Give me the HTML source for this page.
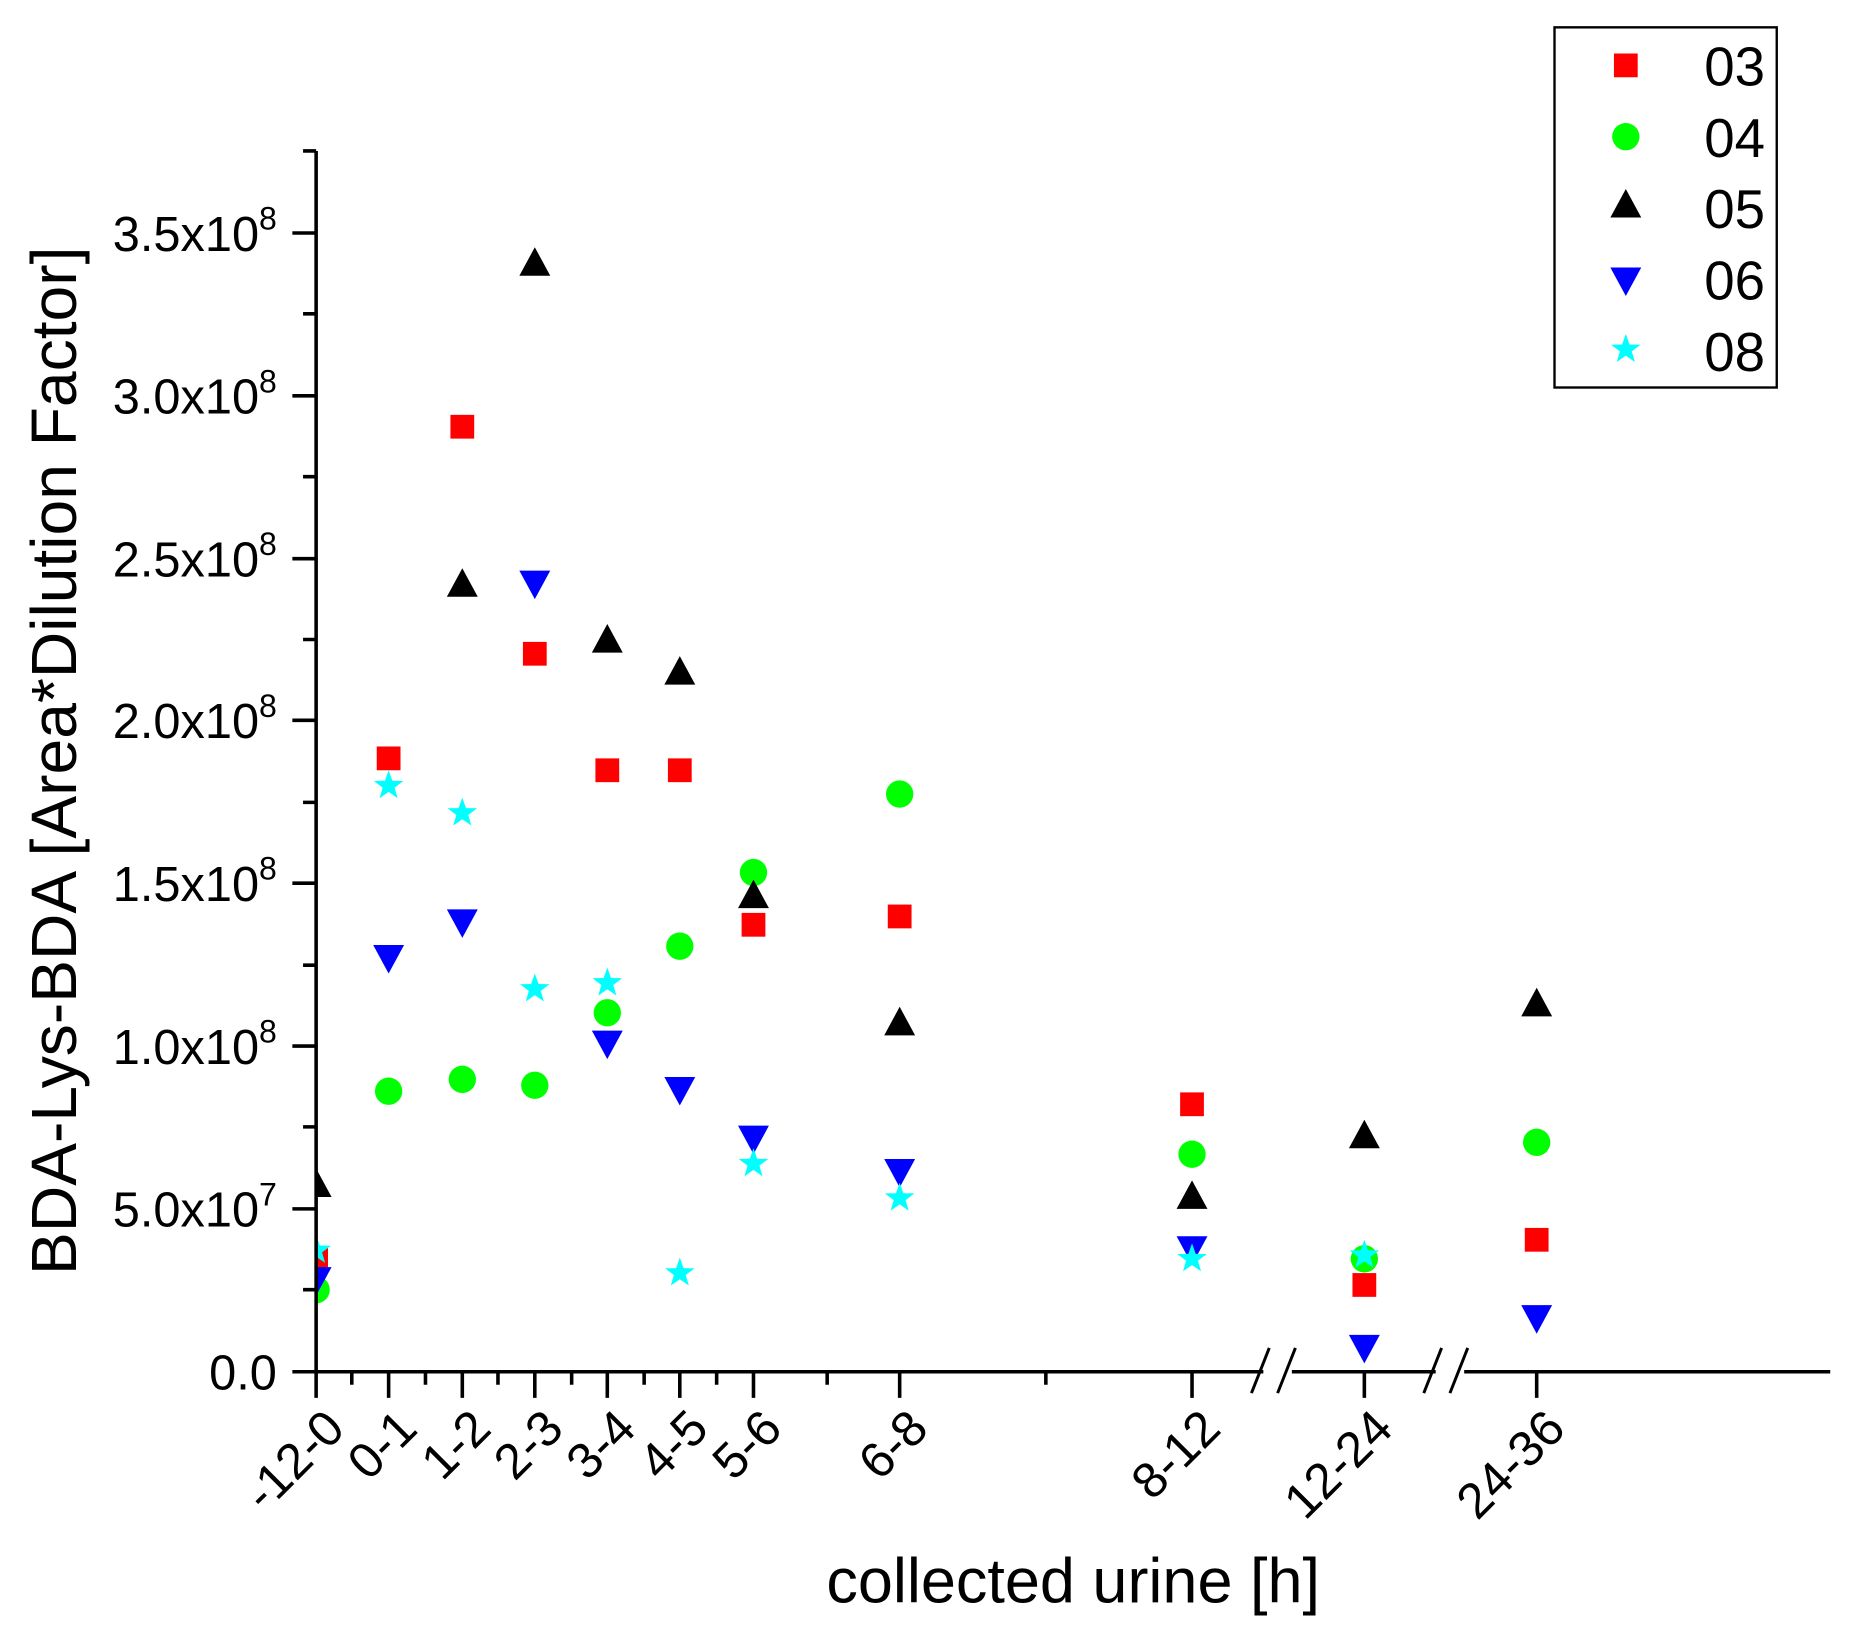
<!DOCTYPE html>
<html><head><meta charset="utf-8"><style>html,body{margin:0;padding:0;background:#fff}svg{display:block}</style></head>
<body>
<svg width="1854" height="1638" viewBox="0 0 1560 1378" preserveAspectRatio="none" xmlns="http://www.w3.org/2000/svg" xmlns:xlink="http://www.w3.org/1999/xlink" font-family="Liberation Sans, Arial, sans-serif">
<defs>
<rect id="sq" x="-10" y="-10" width="20" height="20" fill="#ff0000"/>
<circle id="ci" r="11.5" fill="#00ff00"/>
<polygon id="tu" points="0,-14 13,10 -13,10" fill="#000"/>
<polygon id="td" points="0,14 13,-10 -13,-10" fill="#0000ff"/>
<polygon id="st" points="0,-13 3.1,-4.2 12.4,-4 5,1.6 7.6,10.5 0,5.2 -7.6,10.5 -5,1.6 -12.4,-4 -3.1,-4.2" fill="#00ffff"/>
<clipPath id="cp"><rect x="266" y="0" width="1300" height="1154"/></clipPath>
</defs>
<rect width="1560" height="1378" fill="#fff"/>
<g clip-path="url(#cp)">
<use href="#sq" x="266" y="1060"/><use href="#sq" x="327" y="638"/><use href="#sq" x="389" y="359"/><use href="#sq" x="450" y="550"/><use href="#sq" x="511" y="648"/><use href="#sq" x="572" y="648"/><use href="#sq" x="634" y="778"/><use href="#sq" x="757" y="771"/><use href="#sq" x="1003" y="929"/><use href="#sq" x="1148" y="1081"/><use href="#sq" x="1293" y="1043"/>
<use href="#ci" x="266" y="1085"/><use href="#ci" x="327" y="918"/><use href="#ci" x="389" y="908"/><use href="#ci" x="450" y="913"/><use href="#ci" x="511" y="852"/><use href="#ci" x="572" y="796"/><use href="#ci" x="634" y="734"/><use href="#ci" x="757" y="668"/><use href="#ci" x="1003" y="971"/><use href="#ci" x="1148" y="1059"/><use href="#ci" x="1293" y="961"/>
<use href="#tu" x="266" y="997"/><use href="#tu" x="389" y="492"/><use href="#tu" x="450" y="222"/><use href="#tu" x="511" y="539"/><use href="#tu" x="572" y="566"/><use href="#tu" x="634" y="754"/><use href="#tu" x="757" y="861"/><use href="#tu" x="1003" y="1007"/><use href="#tu" x="1148" y="956"/><use href="#tu" x="1293" y="845"/>
<use href="#td" x="266" y="1076"/><use href="#td" x="327" y="805"/><use href="#td" x="389" y="775"/><use href="#td" x="450" y="490"/><use href="#td" x="511" y="877"/><use href="#td" x="572" y="916"/><use href="#td" x="634" y="957"/><use href="#td" x="757" y="985"/><use href="#td" x="1003" y="1050"/><use href="#td" x="1148" y="1133"/><use href="#td" x="1293" y="1108"/>
<use href="#st" x="266" y="1052"/><use href="#st" x="327" y="661"/><use href="#st" x="389" y="684"/><use href="#st" x="450" y="832"/><use href="#st" x="511" y="827"/><use href="#st" x="572" y="1071"/><use href="#st" x="634" y="979"/><use href="#st" x="757" y="1008"/><use href="#st" x="1003" y="1059"/><use href="#st" x="1148" y="1056"/>
</g>
<g stroke="#000" stroke-width="3" fill="none">
<line x1="266" y1="127" x2="266" y2="1155"/>
<line x1="250" y1="1154" x2="1540" y2="1154"/>
<path d="M246 196H266M246 333H266M246 470H266M246 606H266M246 743H266M246 880H266M246 1017H266M246 1154H266"/>
<path d="M255 127H266M255 264H266M255 401H266M255 538H266M255 675H266M255 812H266M255 948H266M255 1085H266"/>
<path d="M266 1154V1176M327 1154V1176M389 1154V1176M450 1154V1176M511 1154V1176M572 1154V1176M634 1154V1176M757 1154V1176M1003 1154V1176M1148 1154V1176M1293 1154V1176"/>
<path d="M296 1154V1165M358 1154V1165M419 1154V1165M481 1154V1165M542 1154V1165M603 1154V1165M696 1154V1165M880 1154V1165"/>
</g>
<rect x="1063" y="1148" width="24" height="12" fill="#fff"/>
<rect x="1208" y="1148" width="24" height="12" fill="#fff"/>
<g stroke="#000" stroke-width="2.5">
<line x1="1053" y1="1172" x2="1068" y2="1134"/><line x1="1075" y1="1172" x2="1090" y2="1134"/>
<line x1="1198" y1="1172" x2="1213" y2="1134"/><line x1="1220" y1="1172" x2="1235" y2="1134"/>
</g>
<g font-size="41" text-anchor="end" fill="#000">
<text x="233" y="211">3.5x10<tspan font-size="27" dy="-18">8</tspan></text>
<text x="233" y="348">3.0x10<tspan font-size="27" dy="-18">8</tspan></text>
<text x="233" y="485">2.5x10<tspan font-size="27" dy="-18">8</tspan></text>
<text x="233" y="621">2.0x10<tspan font-size="27" dy="-18">8</tspan></text>
<text x="233" y="758">1.5x10<tspan font-size="27" dy="-18">8</tspan></text>
<text x="233" y="895">1.0x10<tspan font-size="27" dy="-18">8</tspan></text>
<text x="233" y="1032">5.0x10<tspan font-size="27" dy="-18">7</tspan></text>
<text x="233" y="1169">0.0</text>
</g>
<text transform="translate(64,640) rotate(-90)" font-size="54" text-anchor="middle">BDA-Lys-BDA [Area*Dilution Factor]</text>
<g font-size="42" text-anchor="end">
<text transform="translate(292,1204) rotate(-45)">-12-0</text>
<text transform="translate(353,1204) rotate(-45)">0-1</text>
<text transform="translate(415,1204) rotate(-45)">1-2</text>
<text transform="translate(476,1204) rotate(-45)">2-3</text>
<text transform="translate(537,1204) rotate(-45)">3-4</text>
<text transform="translate(598,1204) rotate(-45)">4-5</text>
<text transform="translate(660,1204) rotate(-45)">5-6</text>
<text transform="translate(783,1204) rotate(-45)">6-8</text>
<text transform="translate(1029,1204) rotate(-45)">8-12</text>
<text transform="translate(1174,1204) rotate(-45)">12-24</text>
<text transform="translate(1319,1204) rotate(-45)">24-36</text>
</g>
<text x="903" y="1348" font-size="53" text-anchor="middle">collected urine [h]</text>
<rect x="1308" y="23" width="187" height="303" fill="#fff" stroke="#000" stroke-width="2"/>
<use href="#sq" x="1368" y="55"/><use href="#ci" x="1368" y="115"/><use href="#tu" x="1368" y="173"/><use href="#td" x="1368" y="235"/><use href="#st" x="1368" y="294"/>
<g font-size="46">
<text x="1434" y="72">03</text><text x="1434" y="132">04</text><text x="1434" y="192">05</text><text x="1434" y="252">06</text><text x="1434" y="312">08</text>
</g>
</svg>
</body></html>
